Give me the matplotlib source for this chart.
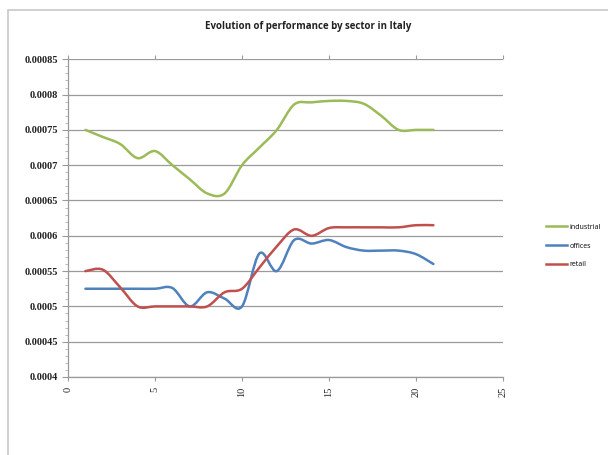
import numpy as np
import matplotlib
matplotlib.use("Agg")
import matplotlib.pyplot as plt
from matplotlib.path import Path
from matplotlib.patches import PathPatch, Rectangle
from matplotlib.lines import Line2D
from matplotlib.ticker import MultipleLocator, FormatStrFormatter

# ---- data -------------------------------------------------------------
periods = list(range(1, 22))

industrial = [0.00075, 0.00074, 0.00073, 0.00071, 0.00072, 0.00070, 0.00068,
              0.00066, 0.00066, 0.00070, 0.000725, 0.00075, 0.000786, 0.000789,
              0.000791, 0.000791, 0.000787, 0.00077, 0.00075, 0.00075, 0.00075]

offices = [0.000525, 0.000525, 0.000525, 0.000525, 0.000525, 0.000526, 0.0005,
           0.00052, 0.000511, 0.0005, 0.000575, 0.00055, 0.000594, 0.000589,
           0.000594, 0.000584, 0.000579, 0.000579, 0.000579, 0.000574, 0.00056]

retail = [0.00055, 0.000552, 0.000527, 0.0005, 0.0005, 0.0005, 0.0005,
          0.0005, 0.00052, 0.000525, 0.000555, 0.000585, 0.000609, 0.0006,
          0.000611, 0.000612, 0.000612, 0.000612, 0.000612, 0.000615, 0.000615]

series_names = ["industrial", "offices", "retail"]
series_values = [industrial, offices, retail]
series_colors = ["#9BBB59", "#4F81BD", "#C0504D"]

title = "Evolution of performance by sector in Italy"


def smooth_path(xs, ys):
    """Cubic Bezier path through every point (cardinal spline smoothing)."""
    pts = np.column_stack([xs, ys]).astype(float)
    n = len(pts)
    verts = [pts[0]]
    codes = [Path.MOVETO]
    for i in range(n - 1):
        p0 = pts[i - 1] if i > 0 else pts[i]
        p1 = pts[i]
        p2 = pts[i + 1]
        p3 = pts[i + 2] if i + 2 < n else pts[i + 1]
        c1 = p1 + (p2 - p0) / 6.0
        c2 = p2 - (p3 - p1) / 6.0
        verts += [c1, c2, p2]
        codes += [Path.CURVE4] * 3
    return Path(verts, codes)


fig = plt.figure(figsize=(6.08, 4.55), dpi=100)
fig.patch.set_facecolor("white")

# chart-area frame
fig.patches.append(Rectangle((8 / 608, -0.05), 1.1, 1 - 10 / 455 + 0.05,
                             transform=fig.transFigure, fill=False,
                             edgecolor="#c8c8c8", linewidth=1.2))

ax = fig.add_axes([68 / 608, 1 - 377 / 455, (503 - 68) / 608, (377 - 59.3) / 455])
ax.set_xlim(0, 25)
ax.set_ylim(0.0004, 0.00085)

for name, vals, col in zip(series_names, series_values, series_colors):
    patch = PathPatch(smooth_path(periods, vals), facecolor="none",
                      edgecolor=col, linewidth=1.8, capstyle="round",
                      joinstyle="round", zorder=3)
    ax.add_patch(patch)

# axes styling
ax.yaxis.set_major_locator(MultipleLocator(0.00005))
ax.yaxis.set_minor_locator(MultipleLocator(0.00001))
ax.xaxis.set_major_locator(MultipleLocator(5))
ax.yaxis.set_major_formatter(matplotlib.ticker.FuncFormatter(
    lambda v, p: ("%.5f" % v).rstrip("0")))
ax.xaxis.set_major_formatter(FormatStrFormatter("%d"))

ax.grid(axis="y", which="major", color="#9a9a9a", linewidth=0.9)
ax.set_axisbelow(True)
for side in ("top", "right"):
    ax.spines[side].set_visible(False)
for side in ("left", "bottom"):
    ax.spines[side].set_color("#9a9a9a")
    ax.spines[side].set_linewidth(0.9)

ax.tick_params(axis="y", which="major", length=4, width=0.8, color="#9a9a9a",
               labelsize=7.5, pad=3)
ax.tick_params(axis="y", which="minor", length=2, width=0.6, color="#b0b0b0")
ax.tick_params(axis="x", which="major", length=3, width=0.8, color="#9a9a9a",
               labelsize=7.5, pad=4, labelrotation=90, top=True, direction="out")
for lbl in ax.get_yticklabels() + ax.get_xticklabels():
    lbl.set_fontfamily("Liberation Serif")
    lbl.set_color("#222222")
for lbl in ax.get_yticklabels():
    lbl.set_fontweight("bold")

fig.text(308 / 608, 1 - 27 / 455, title, ha="center", va="center",
         fontsize=7, fontweight="bold", family="Open Sans", color="#222222")

handles = [Line2D([], [], color=c, linewidth=1.8) for c in series_colors]
fig.legend(handles, series_names, loc="center left",
           bbox_to_anchor=(540 / 608, 1 - 246 / 455), frameon=False,
           handlelength=3.0, handletextpad=0.3, labelspacing=1.7,
           prop={"family": "Open Sans", "size": 5})

fig.savefig("out.png", dpi=100)
